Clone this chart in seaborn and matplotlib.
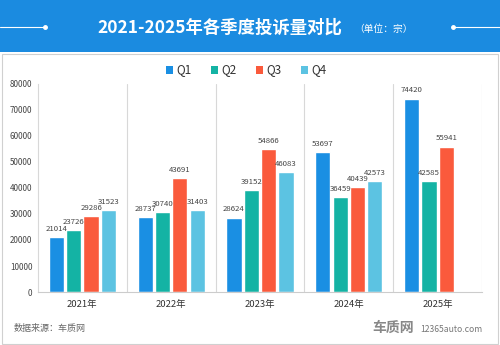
import matplotlib
matplotlib.use("Agg")
import matplotlib.pyplot as plt
import seaborn as sns
import pandas as pd
from matplotlib.patches import Rectangle
from matplotlib.lines import Line2D

years = ["2021年", "2022年", "2023年", "2024年", "2025年"]
quarters = ["Q1", "Q2", "Q3", "Q4"]
q1 = [21014, 28737, 28624, 53697, 74420]
q2 = [23726, 30740, 39152, 36459, 42585]
q3 = [29286, 43691, 54866, 40439, 55941]
q4 = [31523, 31403, 46083, 42573, None]
yticks = [0, 10000, 20000, 30000, 40000, 50000, 60000, 70000, 80000]
colors = ["#1a8fe3", "#14b3a4", "#fa5a3c", "#5cc3e2"]

rows = []
for qi, vals in zip(quarters, [q1, q2, q3, q4]):
    for y, v in zip(years, vals):
        if v is not None:
            rows.append({"year": y, "quarter": qi, "value": v})
df = pd.DataFrame(rows)

sns.set_theme(style="white")
plt.rcParams["font.family"] = ["Noto Sans CJK SC", "DejaVu Sans"]

W, H = 500, 345
fig = plt.figure(figsize=(5, 3.45), dpi=100)
fig.patch.set_facecolor("white")

# header band
fig.add_artist(Rectangle((0, 1 - 52 / H), 1, 52 / H, transform=fig.transFigure,
                         facecolor="#1b8be0", edgecolor="none", zorder=0))
yl = 1 - 27 / H
fig.add_artist(Line2D([0, 45 / W], [yl, yl], transform=fig.transFigure, color="white", lw=0.8))
fig.add_artist(Line2D([45 / W], [yl], transform=fig.transFigure, color="white", marker="o", ms=2.5, lw=0))
fig.add_artist(Line2D([453 / W, 1], [yl, yl], transform=fig.transFigure, color="white", lw=0.8))
fig.add_artist(Line2D([453 / W], [yl], transform=fig.transFigure, color="white", marker="o", ms=2.5, lw=0))
fig.text(220 / W, 1 - 28 / H, "2021-2025年各季度投诉量对比", color="white", fontsize=12.5,
         fontweight="bold", ha="center", va="center")
fig.text(354 / W, 1 - 29 / H, "（单位：宗）", color="white", fontsize=7, ha="left", va="center")

# card border
fig.add_artist(Rectangle((1.5 / W, 1.5 / H), 496 / W, (343 - 53) / H, transform=fig.transFigure,
                         facecolor="none", edgecolor="#d0d0d0", lw=0.8))

ax = fig.add_axes([38 / W, 1 - 292 / H, 444 / W, 208 / H])
sns.barplot(data=df, x="year", y="value", hue="quarter", order=years, hue_order=quarters,
            palette=colors, width=0.78, gap=0.12, ax=ax, legend=False, saturation=1)

ax.set_ylim(0, 80000)
ax.set_xlim(-0.5, 4.5)
ax.set_yticks(yticks)
ax.set_yticklabels([str(t) for t in yticks], fontsize=5.8, color="#444444")
ax.tick_params(axis="x", labelsize=6.8, colors="#333333", length=0, pad=6)
ax.tick_params(axis="y", length=0, pad=4)
ax.set_xlabel("")
ax.set_ylabel("")
for s in ["top", "right"]:
    ax.spines[s].set_visible(False)
ax.spines["left"].set_color("#d8d8d8")
ax.spines["bottom"].set_color("#cccccc")
ax.spines["left"].set_linewidth(0.8)
ax.spines["bottom"].set_linewidth(0.8)
for xs in [0.5, 1.5, 2.5, 3.5, 4.5]:
    ax.axvline(xs, color="#d8d8d8", lw=0.8, zorder=0)

for c in ax.containers:
    ax.bar_label(c, fmt="%d", fontsize=5.6, color="#444444", padding=3)

# legend
lx = [166, 211, 256, 301]
for x0, q, col in zip(lx, quarters, colors):
    fig.add_artist(Rectangle((x0 / W, 1 - 74 / H), 7 / W, 8 / H, transform=fig.transFigure,
                             facecolor=col, edgecolor="none"))
    fig.text((x0 + 10) / W, 1 - 70 / H, q, fontsize=8.5, color="#333333", ha="left", va="center")

fig.text(14 / W, 1 - 329 / H, "数据来源：车质网", fontsize=6.5, color="#666666", ha="left", va="center")
fig.text(372 / W, 1 - 328 / H, "车质网", fontsize=10, fontweight="bold", color="#888888",
         ha="left", va="center")
fig.text(420 / W, 1 - 329 / H, "12365auto.com", fontsize=6.2, color="#777777", ha="left", va="center")

fig.savefig("out.png", dpi=100)
